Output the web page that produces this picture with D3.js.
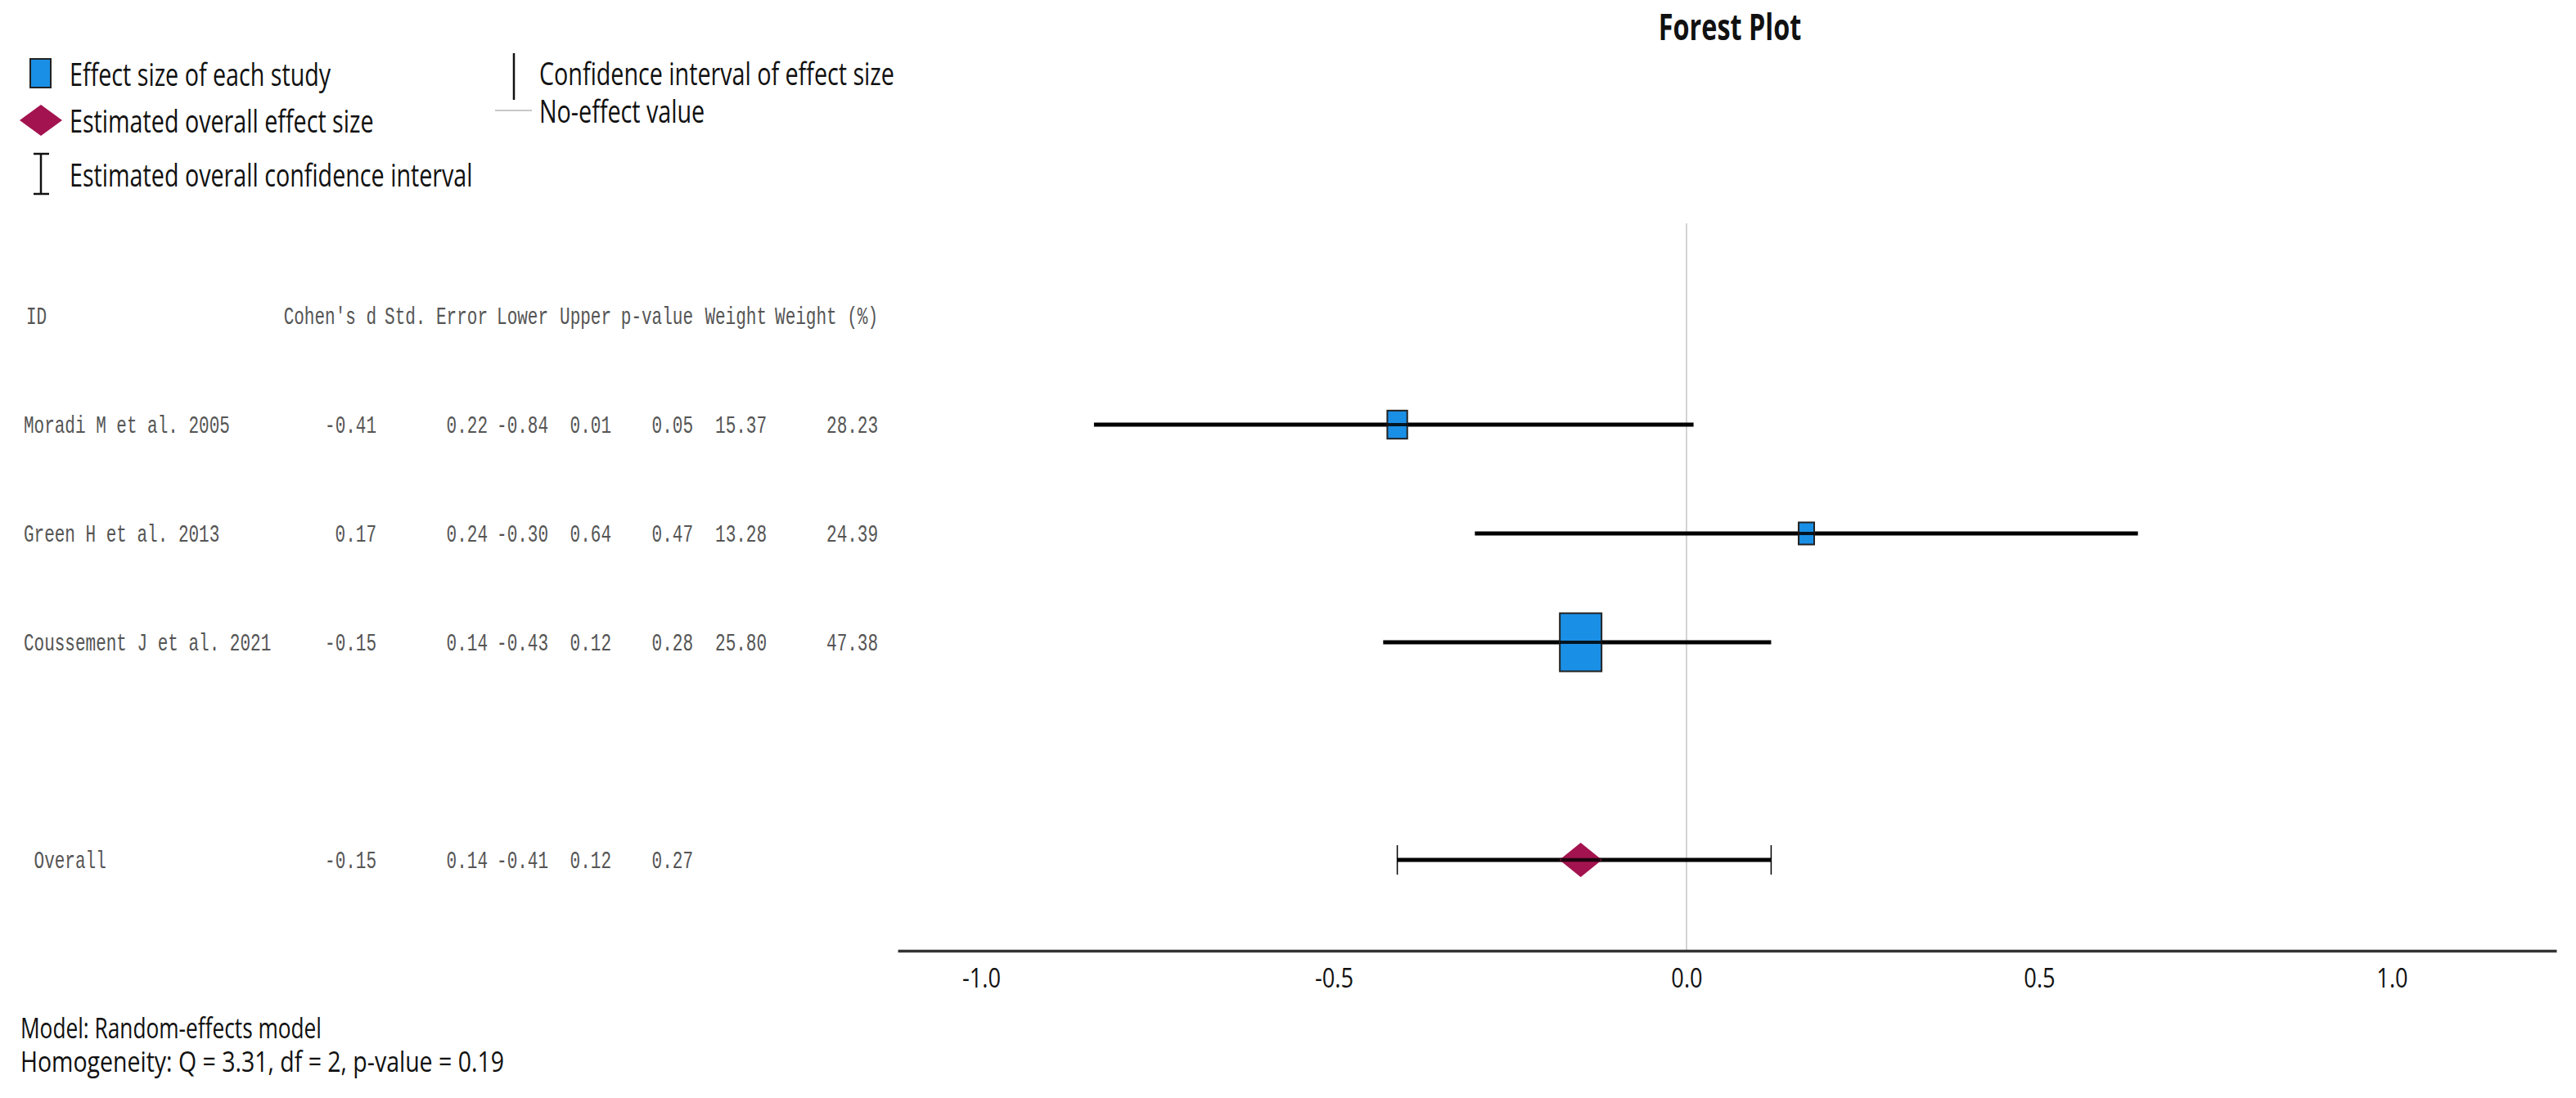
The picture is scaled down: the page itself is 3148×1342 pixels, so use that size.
<!DOCTYPE html>
<html>
<head>
<meta charset="utf-8">
<title>Forest Plot</title>
<script src="https://cdn.jsdelivr.net/npm/d3@7"></script>
<style>
  body { margin: 0; background: #fff; }
  svg { display: block; }
  .sans { font-family: "Open Sans", "Noto Sans", sans-serif; fill: #111; }
  .mono { font-family: "Liberation Mono", "DejaVu Sans Mono", monospace; fill: #555; }
</style>
</head>
<body>
<div id="chart-area"></div>
<script>
// data
var studies   = ["Moradi M et al. 2005", "Green H et al. 2013", "Coussement J et al. 2021"];
var cohenD    = [-0.41, 0.17, -0.15];
var stdError  = [0.22, 0.24, 0.14];
var lower     = [-0.84, -0.30, -0.43];
var upper     = [0.01, 0.64, 0.12];
var pValue    = [0.05, 0.47, 0.28];
var weight    = [15.37, 13.28, 25.80];
var weightPct = [28.23, 24.39, 47.38];

var overallLabel = " Overall";
var overallValues = [-0.15, 0.14, -0.41, 0.12, 0.27];

var columns = ["Cohen's d", "Std. Error", "Lower", "Upper", "p-value", "Weight", "Weight (%)"];
var xTicks = [-1.0, -0.5, 0.0, 0.5, 1.0];

var notes = ["Model: Random-effects model",
             "Homogeneity: Q = 3.31, df = 2, p-value = 0.19"];

var width = 3148, height = 1342;

var svg = d3.select("#chart-area")
  .append("svg")
  .attr("width", width)
  .attr("height", height);

// scales
var x = d3.scaleLinear()
  .domain([-1.1183, 1.2332])
  .range([1097, 3124]);

// row index: -1 header, 0..2 studies, 4 overall
var y = d3.scaleLinear()
  .domain([-1, 4])
  .range([386, 1051]);

var boxW = d3.scaleLinear().domain([24.39, 47.38]).range([19, 51]);
var boxH = d3.scaleLinear().domain([24.39, 47.38]).range([27, 71]);

// right edges of the table columns
var colEnd = [460, 596, 670, 747, 847, 937, 1073];

// the picture is squeezed sideways, so the text is narrow
function squeezedText(sel, tx, ty, cls, size, sx, anchor, txt) {
  return sel.append("text")
    .attr("class", cls)
    .attr("transform", "translate(" + tx + "," + ty + ") scale(" + sx + ",1)")
    .attr("font-size", size)
    .attr("text-anchor", anchor)
    .style("white-space", "pre")
    .text(txt);
}

// title
squeezedText(svg, 2114, 48.5, "sans", 45, 0.72, "middle", "Forest Plot")
  .attr("font-weight", "bold");

// legend
var legend = svg.append("g");
var lg = 38, lsx = 0.755;
legend.append("rect")
  .attr("x", 37).attr("y", 72).attr("width", 25).attr("height", 35)
  .attr("fill", "#1a8fe6").attr("stroke", "#222").attr("stroke-width", 2);
squeezedText(legend, 85, 105, "sans", lg, lsx, "start", "Effect size of each study");

legend.append("path")
  .attr("d", "M24,147L50,128L76,147L50,166Z")
  .attr("fill", "#a3134f");
squeezedText(legend, 85, 162, "sans", lg, lsx, "start", "Estimated overall effect size");

legend.append("path")
  .attr("d", "M41,188H60M50,188V237M41,237H60")
  .attr("stroke", "#111").attr("stroke-width", 2.5).attr("fill", "none");
squeezedText(legend, 85, 228, "sans", lg, lsx, "start", "Estimated overall confidence interval");

legend.append("line")
  .attr("x1", 628).attr("x2", 628).attr("y1", 65).attr("y2", 122)
  .attr("stroke", "#111").attr("stroke-width", 2.5);
squeezedText(legend, 659, 104, "sans", lg, lsx, "start", "Confidence interval of effect size");

legend.append("line")
  .attr("x1", 605).attr("x2", 650).attr("y1", 135).attr("y2", 135)
  .attr("stroke", "#c8c8c8").attr("stroke-width", 2);
squeezedText(legend, 659, 150, "sans", lg, lsx, "start", "No-effect value");

// table
var table = svg.append("g");
squeezedText(table, 32, y(-1) + 10, "mono", 30, 0.7, "start", "ID");
columns.forEach(function(c, i) {
  squeezedText(table, colEnd[i], y(-1) + 10, "mono", 30, 0.7, "end", c);
});

studies.forEach(function(s, r) {
  var vals = [cohenD[r], stdError[r], lower[r], upper[r], pValue[r], weight[r], weightPct[r]];
  squeezedText(table, 29, y(r) + 10, "mono", 30, 0.7, "start", s);
  vals.forEach(function(v, i) {
    squeezedText(table, colEnd[i], y(r) + 10, "mono", 30, 0.7, "end", v.toFixed(2));
  });
});

squeezedText(table, 29, y(4) + 10, "mono", 30, 0.7, "start", overallLabel);
overallValues.forEach(function(v, i) {
  squeezedText(table, colEnd[i], y(4) + 10, "mono", 30, 0.7, "end", v.toFixed(2));
});

// no-effect line
svg.append("line")
  .attr("x1", x(0)).attr("x2", x(0))
  .attr("y1", 273).attr("y2", 1162)
  .attr("stroke", "#c4c4c4").attr("stroke-width", 1.5);

// x axis
var xAxis = svg.append("g")
  .attr("transform", "translate(0,1162)")
  .call(d3.axisBottom(x)
    .tickValues(xTicks)
    .tickSize(0)
    .tickSizeOuter(0)
    .tickFormat(function(d) { return d.toFixed(1); }));
xAxis.select(".domain").attr("stroke", "#333").attr("stroke-width", 3.5);
xAxis.selectAll(".tick text")
  .attr("y", 0)
  .attr("dy", 0)
  .attr("fill", "#111")
  .attr("font-family", "Open Sans, sans-serif")
  .attr("font-size", 32)
  .attr("transform", "translate(0,45) scale(0.85,1)");

// study confidence intervals and boxes
var rows = studies.map(function(s, i) {
  return {name: s, d: cohenD[i], lo: lower[i], hi: upper[i], w: weightPct[i], i: i};
});

svg.selectAll(".ci")
  .data(rows)
  .enter()
  .append("line")
  .attr("class", "ci")
  .attr("x1", function(d) { return x(d.lo); })
  .attr("x2", function(d) { return x(d.hi); })
  .attr("y1", function(d) { return y(d.i); })
  .attr("y2", function(d) { return y(d.i); })
  .attr("stroke", "#000")
  .attr("stroke-width", 5);

svg.selectAll(".box")
  .data(rows)
  .enter()
  .append("rect")
  .attr("class", "box")
  .attr("x", function(d) { return x(d.d) - boxW(d.w) / 2; })
  .attr("y", function(d) { return y(d.i) - boxH(d.w) / 2; })
  .attr("width", function(d) { return boxW(d.w); })
  .attr("height", function(d) { return boxH(d.w); })
  .attr("fill", "#1a8fe6")
  .attr("stroke", "#222")
  .attr("stroke-width", 2);

// line shows through the boxes
svg.selectAll(".ci-over")
  .data(rows)
  .enter()
  .append("line")
  .attr("class", "ci-over")
  .attr("x1", function(d) { return x(d.d) - boxW(d.w) / 2; })
  .attr("x2", function(d) { return x(d.d) + boxW(d.w) / 2; })
  .attr("y1", function(d) { return y(d.i); })
  .attr("y2", function(d) { return y(d.i); })
  .attr("stroke", "#000")
  .attr("stroke-width", 4)
  .attr("opacity", 0.85);

// overall estimate
var oy = y(4);
svg.append("line")
  .attr("x1", x(overallValues[2])).attr("x2", x(overallValues[3]))
  .attr("y1", oy).attr("y2", oy)
  .attr("stroke", "#000").attr("stroke-width", 5);
[overallValues[2], overallValues[3]].forEach(function(v) {
  svg.append("line")
    .attr("x1", x(v)).attr("x2", x(v))
    .attr("y1", oy - 18).attr("y2", oy + 18)
    .attr("stroke", "#000").attr("stroke-width", 1.5);
});
var ox = x(overallValues[0]);
svg.append("path")
  .attr("d", "M" + (ox - 26) + "," + oy + "L" + ox + "," + (oy - 21) +
             "L" + (ox + 26) + "," + oy + "L" + ox + "," + (oy + 21) + "Z")
  .attr("fill", "#a3134f");
svg.append("line")
  .attr("x1", ox - 24).attr("x2", ox + 24)
  .attr("y1", oy).attr("y2", oy)
  .attr("stroke", "#000").attr("stroke-width", 4.5).attr("opacity", 0.8);

// notes, fitted to the widths seen in the picture
var noteWidths = [368, 591];
notes.forEach(function(n, i) {
  svg.append("text")
    .attr("class", "sans")
    .attr("x", 25)
    .attr("y", 1269 + i * 41)
    .attr("font-size", 34)
    .attr("textLength", noteWidths[i])
    .attr("lengthAdjust", "spacingAndGlyphs")
    .text(n);
});
</script>
</body>
</html>
